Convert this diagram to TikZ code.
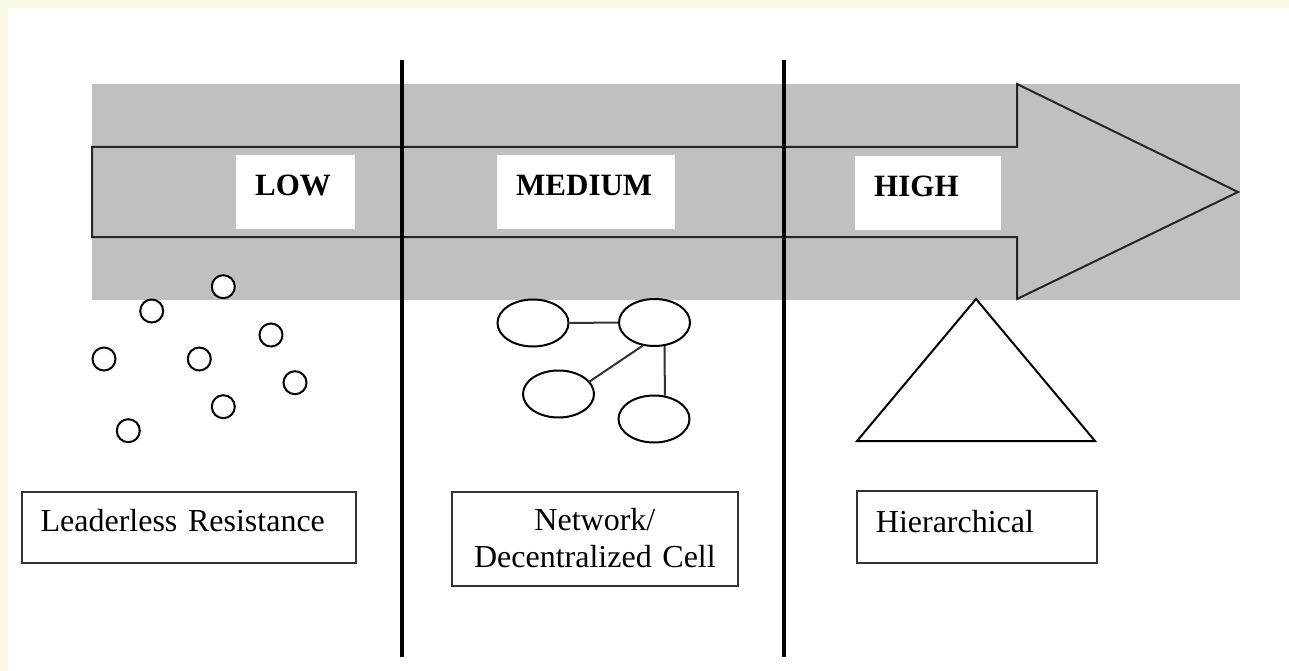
\documentclass[tikz,border=0pt]{standalone}
\usepackage{fontspec}
\setmainfont{Liberation Serif}
\usetikzlibrary{shapes.geometric}
\definecolor{cream}{RGB}{250,250,230}
\definecolor{band}{RGB}{192,192,192}
\begin{document}
\begin{tikzpicture}[x=1pt,y=-1pt,
  lbl/.style={fill=white, anchor=north west, inner xsep=19pt, inner ysep=0pt,
    text height=40pt, text depth=34pt, align=left,
    font=\fontsize{31}{36}\selectfont\bfseries},
  dot/.style={circle, draw=black, line width=2pt, fill=white, minimum size=23pt, inner sep=0pt},
  cell/.style={ellipse, draw=black, line width=2pt, fill=white,
    minimum width=71pt, minimum height=47pt, inner sep=0pt},
  kind/.style={draw=black!80, line width=1.8pt, fill=white, anchor=north west,
    inner xsep=19pt, inner ysep=0pt, font=\fontsize{32}{36.7}\selectfont},
  tie/.style={line width=2pt, draw=black!80},
  divider/.style={line width=4.5pt, draw=black},
  outline/.style={line width=2pt, draw=black!85, line join=miter}]

\useasboundingbox (0,0) rectangle (1289,671);
\fill[cream] (0,0) rectangle (1289,671);
\fill[white] (8,8) rectangle (1289,671);

% grey band and the big arrow
\fill[band] (92,84) rectangle (1240,300);
\draw[outline] (92,147) -- (1017,147) -- (1017,84) -- (1238,192) -- (1017,299)
  -- (1017,237) -- (92,237) -- cycle;

% level labels
\node[lbl, text width=81pt]  (low)    at (236,155) {LOW};
\node[lbl, text width=140pt] (medium) at (497,155) {MEDIUM};
\node[lbl, text width=108pt] (high)   at (855,156) {HIGH};

% dividers
\coordinate (d1t) at (402,60);  \coordinate (d1b) at (402,657);
\coordinate (d2t) at (784,60);  \coordinate (d2b) at (784,657);
\draw[divider] (d1t) -- (d1b);
\draw[divider] (d2t) -- (d2b);

% leaderless: scattered circles
\node[dot] (c1) at (223.3,286.7) {};
\node[dot] (c2) at (151.7,311) {};
\node[dot] (c3) at (271,335) {};
\node[dot] (c4) at (104,359) {};
\node[dot] (c5) at (199.3,359) {};
\node[dot] (c6) at (295,382.7) {};
\node[dot] (c7) at (223.3,406.7) {};
\node[dot] (c8) at (128.3,430.7) {};

% network: linked cells
\node[cell] (e1) at (533,323) {};
\node[cell] (e2) at (654.5,322.5) {};
\node[cell] (e3) at (558.5,394) {};
\node[cell] (e4) at (654,419) {};
\draw[tie] (e1.east) -- (e2.west);
\draw[tie] (e2.243) -- (e3.22);
\draw[tie] (e2.293) -- (e4.65);

% hierarchical: triangle
\draw[line width=2pt, fill=white] (976,299) -- (1095,441) -- (857,441) -- cycle;

% type boxes
\node[kind, text width=296pt, align=left, text height=40.3pt, text depth=30.7pt]
  (leaderless) at (20.7,490.7) {Leaderless Resistance};
\node[kind, text width=248pt, align=center, text height=39.3pt, text depth=55pt]
  (network) at (451,490.7) {Network/\\Decentralized Cell};
\node[kind, text width=202pt, align=left, text height=42pt, text depth=30pt]
  (hier) at (856,490) {Hierarchical};
\end{tikzpicture}
\end{document}
